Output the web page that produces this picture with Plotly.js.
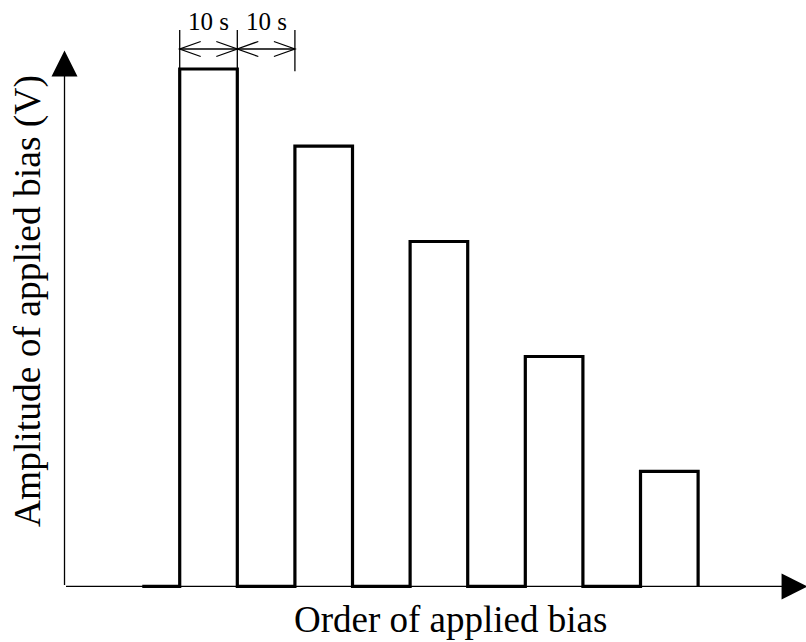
<!DOCTYPE html>
<html>
<head>
<meta charset="utf-8">
<script src="https://cdn.plot.ly/plotly-3.0.1.min.js"></script>
<style>html,body{margin:0;padding:0;background:#fff;}#chart{width:806px;height:642px;}</style>
</head>
<body>
<div id="chart"></div>
<script>
// ---- data ----
var pulseOrder = [1, 2, 3, 4, 5];
var pulseStart = [20, 40, 60, 80, 100];      // s
var pulseDuration = [10, 10, 10, 10, 10];    // s (on)
var pulseAmplitude = [4.5, 3.83, 3.0, 2.0, 1.0]; // arbitrary V units
var leadInStart = 13.5;                      // s, baseline before first pulse
var dimLabels = ["10 s", "10 s"];
var xTitle = "Order of applied bias";
var yTitle = "Amplitude of applied bias (V)";

// build waveform from the data
var wx = [leadInStart], wy = [0];
for (var i = 0; i < pulseStart.length; i++) {
  var s = pulseStart[i], e = s + pulseDuration[i], a = pulseAmplitude[i];
  wx.push(s, s, e, e);
  wy.push(0, a, a, 0);
}

var serif = "'Liberation Serif', 'Times New Roman', serif";
var axisTipX = 129, axisTipY = 4.66;

// dimension markers for on / off intervals of first pulse
var d0 = pulseStart[0], d1 = d0 + pulseDuration[0], d2 = pulseStart[1];
var dimY = 4.674, extTop = 4.84, extBot = 4.48, labY = 4.917;

var shapes = [];
[d0, d1, d2].forEach(function (t) {
  shapes.push({type: 'line', xref: 'x', yref: 'y', x0: t, x1: t, y0: extBot, y1: extTop,
    line: {color: '#000', width: 1.3}});
});
[[d0, d1], [d1, d2]].forEach(function (seg) {
  shapes.push({type: 'line', xref: 'x', yref: 'y', x0: seg[0], x1: seg[1], y0: dimY, y1: dimY,
    line: {color: '#000', width: 1.3}});
  shapes.push({type: 'path', xref: 'x', yref: 'y', xsizemode: 'pixel', ysizemode: 'pixel',
    xanchor: seg[0], yanchor: dimY, path: 'M 21,7.5 L 0,0 L 21,-7.5',
    line: {color: '#000', width: 1.3}});
  shapes.push({type: 'path', xref: 'x', yref: 'y', xsizemode: 'pixel', ysizemode: 'pixel',
    xanchor: seg[1], yanchor: dimY, path: 'M -21,7.5 L 0,0 L -21,-7.5',
    line: {color: '#000', width: 1.3}});
});

var annotations = [
  {x: axisTipX, y: 0, ax: 0, ay: 0, xref: 'x', yref: 'y', axref: 'x', ayref: 'y',
   text: '', showarrow: true, arrowhead: 2, arrowsize: 4, arrowwidth: 1.3, arrowcolor: '#000'},
  {x: 0, y: axisTipY, ax: 0, ay: 0, xref: 'x', yref: 'y', axref: 'x', ayref: 'y',
   text: '', showarrow: true, arrowhead: 2, arrowsize: 4, arrowwidth: 1.3, arrowcolor: '#000'},
  {x: (d0 + d1) / 2, y: labY, xref: 'x', yref: 'y', text: dimLabels[0], showarrow: false,
   xanchor: 'center', yanchor: 'middle', font: {family: serif, size: 25, color: '#000'}},
  {x: (d1 + d2) / 2, y: labY, xref: 'x', yref: 'y', text: dimLabels[1], showarrow: false,
   xanchor: 'center', yanchor: 'middle', font: {family: serif, size: 25, color: '#000'}},
  {x: 0.559, y: 0.0354, xref: 'paper', yref: 'paper', text: xTitle, showarrow: false,
   xanchor: 'center', yanchor: 'middle', font: {family: serif, size: 37, color: '#000'}},
  {x: 0.0347, y: 0.531, xref: 'paper', yref: 'paper', text: yTitle, showarrow: false, textangle: -90,
   xanchor: 'center', yanchor: 'middle', font: {family: serif, size: 37.5, color: '#000'}}
];

var trace = {
  x: wx, y: wy, type: 'scatter', mode: 'lines',
  line: {color: '#000', width: 3.2}, hoverinfo: 'skip', showlegend: false
};

var layout = {
  width: 806, height: 642,
  margin: {l: 0, r: 0, t: 0, b: 0, pad: 0},
  paper_bgcolor: '#fff', plot_bgcolor: '#fff',
  xaxis: {range: [-11.2, 128.73], visible: false, fixedrange: true},
  yaxis: {range: [-0.483, 5.1], visible: false, fixedrange: true},
  shapes: shapes,
  annotations: annotations,
  showlegend: false
};

Plotly.newPlot('chart', [trace], layout, {displayModeBar: false, staticPlot: true});
</script>
</body>
</html>
